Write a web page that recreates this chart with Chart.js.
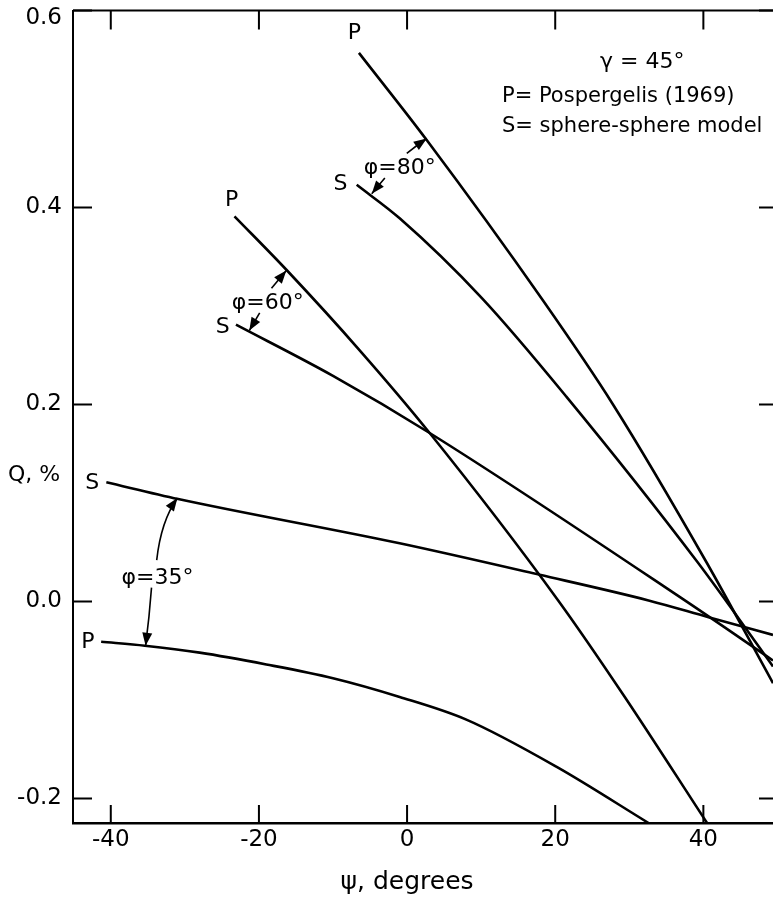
<!DOCTYPE html>
<html>
<head>
<meta charset="utf-8">
<script src="https://cdn.jsdelivr.net/npm/chart.js@4.4.1/dist/chart.umd.min.js"></script>
<style>
    html, body { margin: 0; padding: 0; background: #fff; }
    #wrap { width: 773px; height: 902px; }
</style>
</head>
<body>
<div id="wrap"><canvas id="chart" width="773" height="902"></canvas></div>
<script>
// tick values
const xTicks = [-40, -20, 0, 20, 40];
const yTicks = [-0.2, 0.0, 0.2, 0.4, 0.6];
const yTickLabels = ['-0.2', '0.0', '0.2', '0.4', '0.6'];

// phi = 80 deg
const p80Psi = [-6.5, 2.7, 18.4, 27.8, 40.4, 49.4];
const p80Q = [0.557, 0.468, 0.305, 0.200, 0.040, -0.083];
const s80Psi = [-6.8, -1.0, 10.1, 21.5, 39.2, 49.4];
const s80Q = [0.423, 0.389, 0.308, 0.208, 0.040, -0.066];

// phi = 60 deg
const p60Psi = [-23.3, -16.2, -6.4, 3.05, 20.4, 29.3, 40.5];
const p60Q = [0.391, 0.336, 0.255, 0.171, 0.001, -0.096, -0.225];
const s60Psi = [-23.1, -10.0, 3.05, 37.5, 49.4];
const s60Q = [0.281, 0.229, 0.171, 0.001, -0.060];

// phi = 35 deg
const s35Psi = [-40.6, -30.9, -1.0, 17.9, 32.6, 40.7, 49.4];
const s35Q = [0.121, 0.104, 0.059, 0.027, 0.001, -0.016, -0.034];
const p35Psi = [-41.3, -35.4, -28, -19, -10, -1, 8, 20.2, 32.6];
const p35Q = [-0.041, -0.045, -0.052, -0.064, -0.078, -0.097, -0.120, -0.168, -0.225];

const FONT = '"DejaVu Sans", sans-serif';

function pts(xs, ys) {
    return xs.map((x, i) => ({ x: x, y: ys[i] }));
}

function curve(xs, ys) {
    return {
        data: pts(xs, ys),
        borderColor: '#000',
        borderWidth: 2.6,
        pointRadius: 0,
        fill: false,
        showLine: true,
        cubicInterpolationMode: 'monotone'
    };
}

// annotation texts (in data units)
const curveLabels = [
    { t: 'P', x: -7.1, y: 0.577 },
    { t: 'S', x: -9.0, y: 0.424 },
    { t: 'P', x: -23.7, y: 0.407 },
    { t: 'S', x: -24.9, y: 0.278 },
    { t: 'S', x: -42.5, y: 0.120 },
    { t: 'P', x: -43.1, y: -0.042 }
];
const phiLabels = [
    { t: 'φ=80°', x: -1.0, y: 0.440 },
    { t: 'φ=60°', x: -18.8, y: 0.303 },
    { t: 'φ=35°', x: -33.7, y: 0.023 }
];
// arrows: from, control, tip
const arrows = [
    [-0.04, 0.455, 1.3, 0.463, 2.66, 0.470],
    [-3.0, 0.430, -3.9, 0.422, -4.77, 0.414],
    [-18.3, 0.318, -17.3, 0.327, -16.3, 0.336],
    [-19.9, 0.293, -20.6, 0.284, -21.3, 0.275],
    [-33.8, 0.042, -33.2, 0.082, -31.0, 0.105],
    [-34.5, 0.014, -34.8, -0.016, -35.3, -0.045]
];

const extras = {
    id: 'extras',
    afterDraw(chart) {
        const ctx = chart.ctx;
        const xs = chart.scales.x, ys = chart.scales.y;
        const a = chart.chartArea;
        ctx.save();
        ctx.strokeStyle = '#000';
        ctx.fillStyle = '#000';

        // top frame line
        ctx.lineWidth = 2;
        ctx.beginPath();
        ctx.moveTo(a.left, a.top);
        ctx.lineTo(a.right, a.top);
        ctx.stroke();

        // inward ticks
        ctx.lineWidth = 2;
        xTicks.forEach(v => {
            const px = xs.getPixelForValue(v);
            ctx.beginPath();
            ctx.moveTo(px, a.bottom); ctx.lineTo(px, a.bottom - 18);
            ctx.moveTo(px, a.top); ctx.lineTo(px, a.top + 19);
            ctx.stroke();
        });
        yTicks.forEach(v => {
            const py = ys.getPixelForValue(v);
            ctx.beginPath();
            ctx.moveTo(a.left, py); ctx.lineTo(a.left + 19, py);
            ctx.moveTo(a.right, py); ctx.lineTo(a.right - 14, py);
            ctx.stroke();
        });

        // y tick labels (top one kept inside the picture)
        ctx.font = '23px ' + FONT;
        ctx.textBaseline = 'middle';
        ctx.textAlign = 'right';
        yTicks.forEach((v, i) => {
            const py = Math.max(ys.getPixelForValue(v), 18);
            ctx.fillText(yTickLabels[i], a.left - 11, py);
        });

        ctx.font = '22px ' + FONT;
        ctx.textAlign = 'center';
        curveLabels.concat(phiLabels).forEach(l => {
            ctx.fillText(l.t, xs.getPixelForValue(l.x), ys.getPixelForValue(l.y));
        });

        // arrows
        ctx.lineWidth = 1.6;
        arrows.forEach(r => {
            const x0 = xs.getPixelForValue(r[0]), y0 = ys.getPixelForValue(r[1]);
            const cx = xs.getPixelForValue(r[2]), cy = ys.getPixelForValue(r[3]);
            const x1 = xs.getPixelForValue(r[4]), y1 = ys.getPixelForValue(r[5]);
            ctx.beginPath();
            ctx.moveTo(x0, y0);
            ctx.quadraticCurveTo(cx, cy, x1, y1);
            ctx.stroke();
            const ang = Math.atan2(y1 - cy, x1 - cx);
            const len = 13, w = 5;
            ctx.beginPath();
            ctx.moveTo(x1, y1);
            ctx.lineTo(x1 - len * Math.cos(ang) + w * Math.sin(ang), y1 - len * Math.sin(ang) - w * Math.cos(ang));
            ctx.lineTo(x1 - len * Math.cos(ang) - w * Math.sin(ang), y1 - len * Math.sin(ang) + w * Math.cos(ang));
            ctx.closePath();
            ctx.fill();
        });

        // key text, top right
        ctx.textAlign = 'left';
        ctx.font = '22px ' + FONT;
        ctx.fillText('γ = 45°', 600, 62);
        ctx.font = '21px ' + FONT;
        ctx.fillText('P= Pospergelis (1969)', 502, 97);
        ctx.fillText('S= sphere-sphere model', 502, 127);

        // y axis title, horizontal
        ctx.font = '22px ' + FONT;
        ctx.fillText('Q, %', 8, 475);

        // x axis title, centred under psi = 0
        ctx.textAlign = 'center';
        ctx.font = '25px ' + FONT;
        ctx.fillText('ψ, degrees', xs.getPixelForValue(0), 882);
        ctx.restore();
    }
};

new Chart(document.getElementById('chart').getContext('2d'), {
    type: 'scatter',
    data: {
        datasets: [
            curve(p80Psi, p80Q),
            curve(s80Psi, s80Q),
            curve(p60Psi, p60Q),
            curve(s60Psi, s60Q),
            curve(s35Psi, s35Q),
            curve(p35Psi, p35Q)
        ]
    },
    options: {
        responsive: false,
        devicePixelRatio: 1,
        animation: false,
        layout: { padding: 0 },
        plugins: {
            legend: { display: false },
            tooltip: { enabled: false }
        },
        scales: {
            x: {
                type: 'linear',
                min: -45.1,
                max: 49.4,
                afterBuildTicks: s => { s.ticks = xTicks.map(v => ({ value: v })); },
                afterFit: s => { s.height = 79; },
                grid: { display: false, drawTicks: false },
                border: { display: true, color: '#000', width: 2.5 },
                ticks: {
                    color: '#000',
                    padding: 6,
                    maxRotation: 0,
                    font: { family: FONT, size: 23, lineHeight: 1 },
                    callback: v => String(v)
                }
            },
            y: {
                type: 'linear',
                min: -0.225,
                max: 0.6,
                afterBuildTicks: s => { s.ticks = yTicks.map(v => ({ value: v })); },
                afterFit: s => {
                    s.width = 73;
                    s.paddingTop = 10.5;
                    s.paddingBottom = 0;
                },
                grid: { display: false, drawTicks: false },
                border: { display: true, color: '#000', width: 2 },
                ticks: { display: false }
            }
        }
    },
    plugins: [extras]
});
</script>
</body>
</html>
